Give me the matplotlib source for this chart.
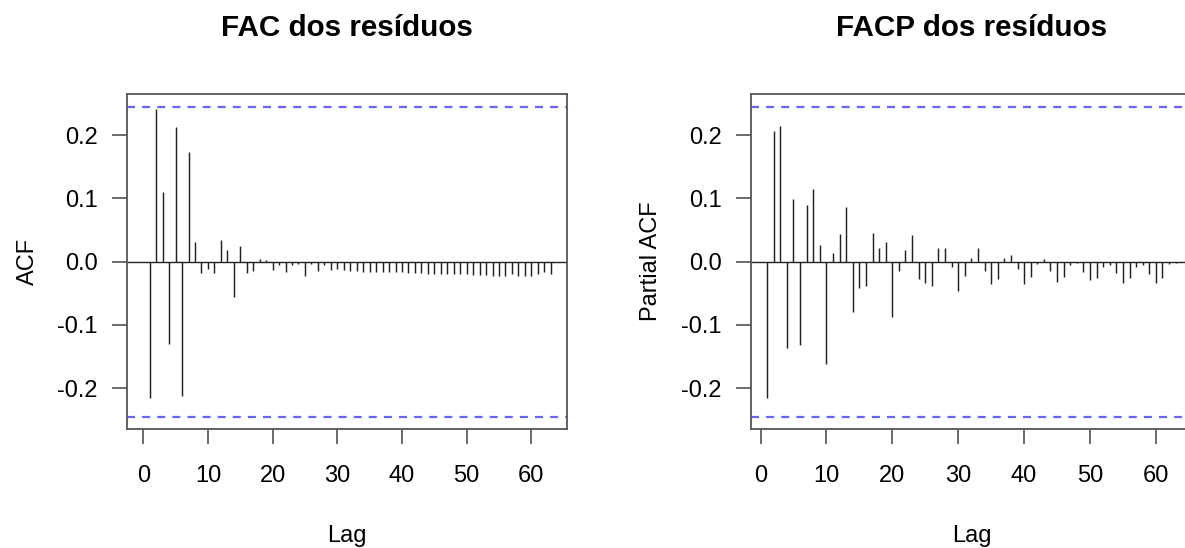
import numpy as np
import matplotlib
matplotlib.use("Agg")
import matplotlib.pyplot as plt

plt.rcParams['font.family'] = ['Liberation Sans', 'DejaVu Sans']

# autocorrelation of the residuals, lags 1..63
lags = np.arange(1, 64)
acf_vals = [-0.216, 0.242, 0.110, -0.130, 0.213, -0.212, 0.173, 0.031, -0.018, -0.011,
            -0.018, 0.034, 0.019, -0.056, 0.024, -0.018, -0.014, 0.004, 0.003, -0.013,
            -0.006, -0.016, -0.005, -0.004, -0.022, -0.004, -0.015, -0.005, -0.013, -0.012,
            -0.013, -0.014, -0.014, -0.016, -0.016, -0.016, -0.016, -0.016, -0.017, -0.017,
            -0.018, -0.018, -0.018, -0.019, -0.019, -0.019, -0.019, -0.020, -0.020, -0.020,
            -0.021, -0.021, -0.021, -0.022, -0.022, -0.022, -0.020, -0.022, -0.022, -0.022,
            -0.020, -0.016, -0.019]

# partial autocorrelation, same lags
pacf_vals = [-0.216, 0.206, 0.215, -0.136, 0.099, -0.131, 0.089, 0.115, 0.027, -0.161,
             0.013, 0.043, 0.087, -0.079, -0.042, -0.039, 0.046, 0.022, 0.031, -0.087,
             -0.015, 0.019, 0.042, -0.027, -0.033, -0.039, 0.022, 0.022, -0.008, -0.046,
             -0.023, 0.006, 0.022, -0.015, -0.035, -0.028, 0.005, 0.010, -0.012, -0.035,
             -0.024, -0.003, 0.004, -0.014, -0.032, -0.025, -0.006, -0.002, -0.017, -0.029,
             -0.026, -0.009, -0.005, -0.018, -0.033, -0.026, -0.008, -0.006, -0.020, -0.033,
             -0.026, -0.003, -0.002]

conf = 0.245  # 1.96/sqrt(n)

xticks = [0, 10, 20, 30, 40, 50, 60]
yticks = [-0.2, -0.1, 0.0, 0.1, 0.2]

W, H = 1185, 548
fig = plt.figure(figsize=(W / 100, H / 100), dpi=100)


def acf_panel(rect, vals, title, ylab, xlim):
    ax = fig.add_axes(rect)
    ax.vlines(lags, 0, vals, color="#222222", lw=1.05)
    ax.axhline(0, color="#222222", lw=1.0)
    for c in (conf, -conf):
        ax.axhline(c, color="#6464ff", lw=1.6, ls=(0, (3.6, 3.2)))
    ax.set_xlim(*xlim)
    ax.set_ylim(-0.265, 0.265)
    ax.set_xticks(xticks)
    ax.set_xticklabels([str(t) for t in xticks])
    ax.set_yticks(yticks)
    ax.set_yticklabels(["%.1f" % t for t in yticks])
    ax.tick_params(labelsize=17, length=11, width=1.1, color="#444444", pad=10)
    ax.tick_params(axis="x", pad=15)
    for s in ax.spines.values():
        s.set_color("#555555")
        s.set_linewidth(1.3)
    ax.set_xlabel("Lag", fontsize=17, va="center")
    ax.xaxis.set_label_coords(0.5, -0.318)
    ax.set_ylabel(ylab, fontsize=17, va="center")
    ax.yaxis.set_label_coords(-0.226, 0.5)
    ax.set_title(title, fontsize=21.3, fontweight="bold", y=1.173, va="baseline", pad=0)
    return ax


acf_panel([127 / W, 118.7 / H, 440 / W, 335.3 / H], acf_vals,
          "FAC dos resíduos", "ACF", (-2.52, 65.52))
acf_panel([750.75 / W, 118.7 / H, 441.25 / W, 335.3 / H], pacf_vals,
          "FACP dos resíduos", "Partial ACF", (-1.48, 65.48))

fig.savefig("out.png", dpi=100)
